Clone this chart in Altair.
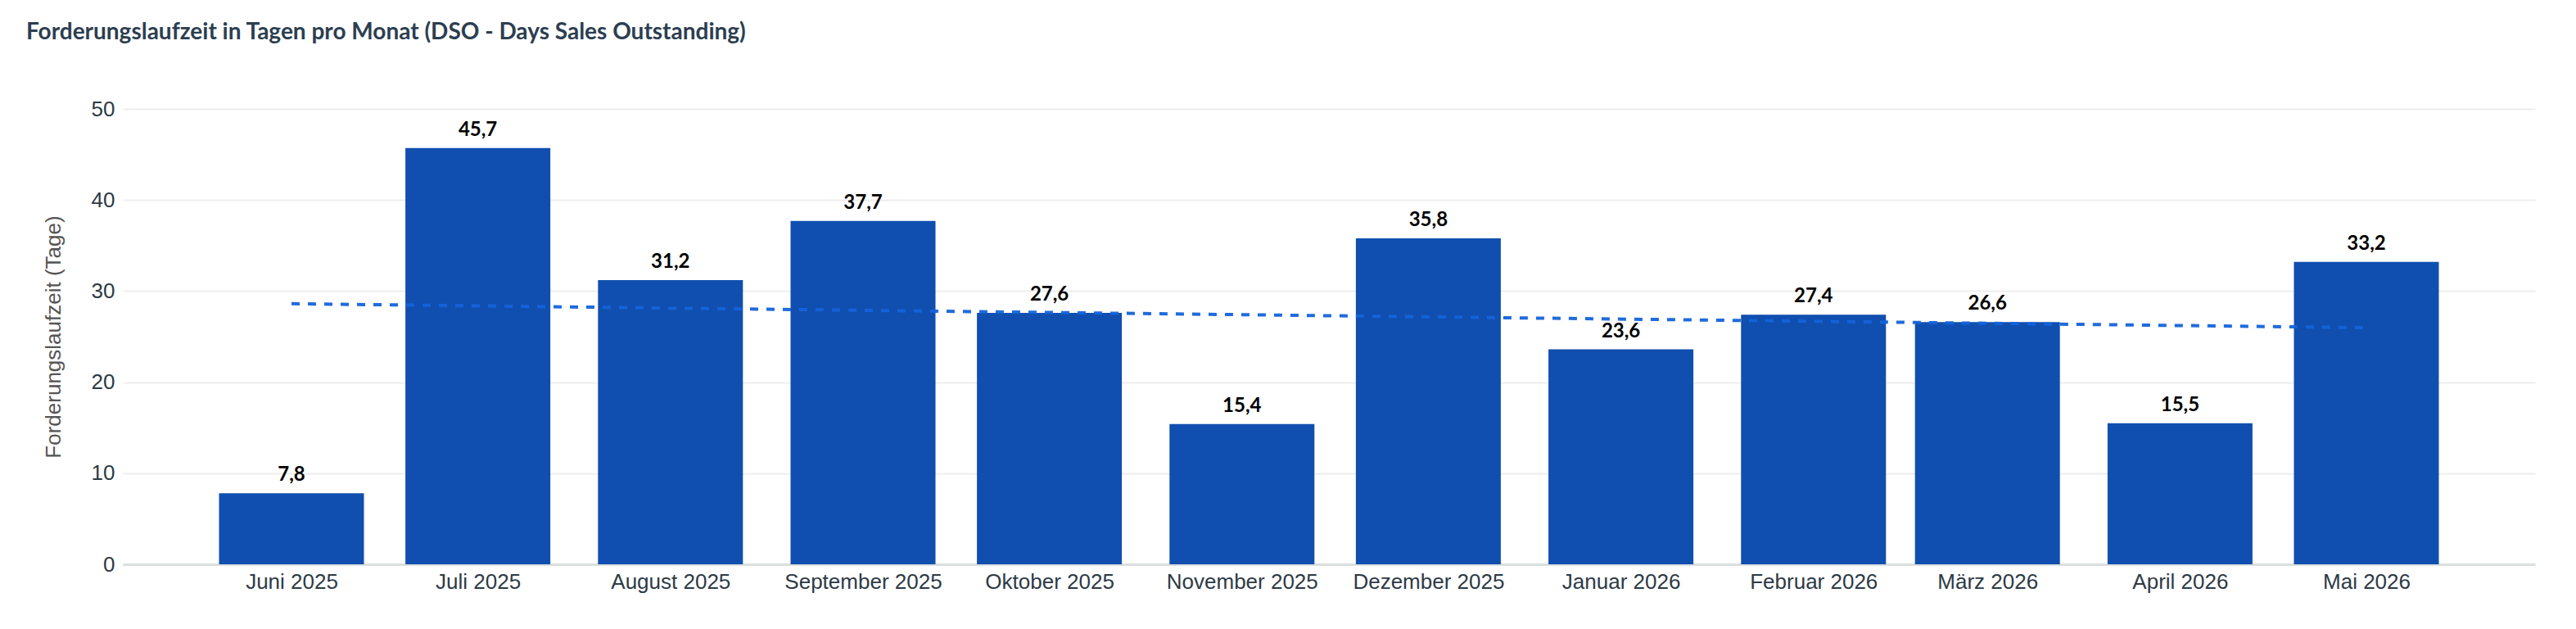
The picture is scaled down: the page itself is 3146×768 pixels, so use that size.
import altair as alt
import pandas as pd

# ---- data ----
months = [
    "2025-06-01T00:00:00", "2025-07-01T00:00:00", "2025-08-01T00:00:00",
    "2025-09-01T00:00:00", "2025-10-01T00:00:00", "2025-11-01T00:00:00",
    "2025-12-01T00:00:00", "2026-01-01T00:00:00", "2026-02-01T00:00:00",
    "2026-03-01T00:00:00", "2026-04-01T00:00:00", "2026-05-01T00:00:00",
]
dso_days = [7.8, 45.7, 31.2, 37.7, 27.6, 15.4, 35.8, 23.6, 27.4, 26.6, 15.5, 33.2]
month_names = ["Januar", "Februar", "März", "April", "Mai", "Juni", "Juli",
               "August", "September", "Oktober", "November", "Dezember"]
y_ticks = [0, 10, 20, 30, 40, 50]

df = pd.DataFrame({"monat": months, "dso": dso_days})

names_js = "[" + ",".join("'" + n + "'" for n in month_names) + "]"
label_expr = names_js + "[month(datum.value)] + ' ' + year(datum.value)"

tick_dates = [alt.DateTime(year=int(m[:4]), month=int(m[5:7]), date=1) for m in months]

BAR = "#104FAF"
TREND = "#1463DB"
LABEL_FONT = "Liberation Sans"

x_scale = alt.Scale(
    domain=[tick_dates[0], tick_dates[-1]],
    padding=206,
    nice=False,
)
y_scale = alt.Scale(domain=[0, 50], nice=False)

x_enc = alt.X(
    "monat:T",
    scale=x_scale,
    axis=alt.Axis(
        values=tick_dates,
        labelExpr=label_expr,
        title=None,
        grid=False,
        ticks=False,
        domain=True,
        domainColor="#dadfdf",
        domainWidth=3,
        labelFont=LABEL_FONT,
        labelFontSize=26,
        labelColor="#2d3a45",
        labelPadding=8,
        labelLimit=0,
        labelOverlap=False,
    ),
)

y_enc = alt.Y(
    "dso:Q",
    scale=y_scale,
    axis=alt.Axis(
        values=y_ticks,
        title="Forderungslaufzeit (Tage)",
        titleFont=LABEL_FONT,
        titleFontSize=26,
        titleFontWeight="normal",
        titleColor="#555555",
        titleX=-85,
        titleY=278,
        titleAngle=-90,
        titleAlign="center",
        titleBaseline="middle",
        grid=True,
        gridColor="#eeeeee",
        gridWidth=2,
        ticks=False,
        domain=False,
        labelFont=LABEL_FONT,
        labelFontSize=26,
        labelColor="#2d3a45",
        labelPadding=10,
    ),
)

bars = alt.Chart(df).mark_bar(size=177, color=BAR).encode(x=x_enc, y=y_enc)

labels = alt.Chart(df).transform_calculate(
    txt="replace(format(datum.dso, '.1f'), '.', ',')"
).mark_text(
    baseline="bottom", dy=-10, font="Lato", fontSize=24, fontWeight="bold", color="black"
).encode(x="monat:T", y="dso:Q", text="txt:N")

trend = alt.Chart(df).transform_calculate(
    t="toDate(datum.monat)"
).transform_regression("t", "dso").mark_line(
    strokeDash=[10, 10], strokeWidth=4, color=TREND, opacity=0.95
).encode(x="t:T", y="dso:Q")

chart = alt.layer(bars, trend, labels).properties(
    width=2946,
    height=556,
    autosize=alt.AutoSizeParams(type="none"),
    padding={"left": 142, "top": 125, "right": 30, "bottom": 60},
    title=alt.TitleParams(
        "Forderungslaufzeit in Tagen pro Monat (DSO - Days Sales Outstanding)",
        anchor="start",
        frame="group",
        dx=-118,
        offset=66,
        font="Lato",
        fontSize=28,
        fontWeight="bold",
        color="#2c3e50",
    ),
).configure_view(stroke=None)

chart.save("out.html", embed_options={"renderer": "svg", "actions": False})
